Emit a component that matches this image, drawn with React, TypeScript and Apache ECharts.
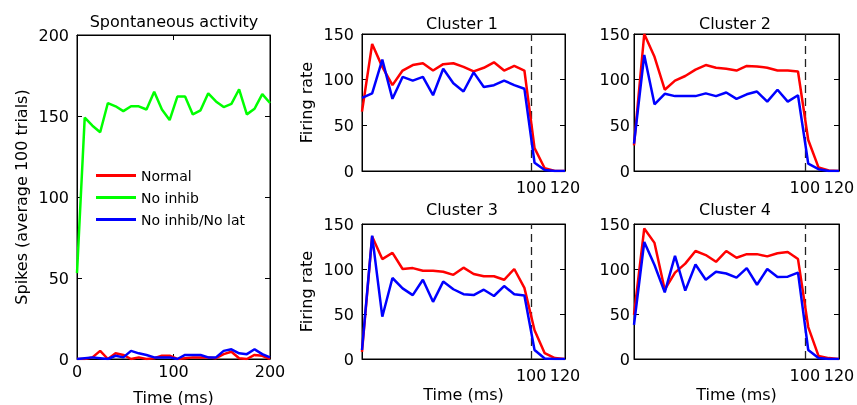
import React, { useEffect, useRef } from "react";
import * as echarts from "echarts";

const seriesNames = ["Normal", "No inhib", "No inhib/No lat"];
const seriesColors = ["#ff0000", "#00ff00", "#0000ff"];

const spontTime = [0, 8, 16, 24, 32, 40, 48, 56, 64, 72, 80, 88, 96, 104, 112, 120, 128, 136, 144, 152, 160, 168, 176, 184, 192, 200];
const spontNormal = [0, 0, 1, 5, 0, 3.5, 2.5, 0, 1, 0, 0.5, 2, 2, 0, 0.5, 1, 1, 1, 0.5, 3, 4.5, 0.5, 0, 2.5, 2, 0];
const spontNoInhib = [53, 149, 144, 140, 158, 156, 153, 156, 156, 154, 165, 154, 147.5, 162, 162, 151, 153.5, 164, 159, 155.5, 157.5, 166.5, 151, 154.5, 163.5, 158];
const spontNoInhibNoLat = [0, 0.5, 1, 0.5, 0, 2, 1, 5, 3.5, 2.5, 1, 1, 1, 0, 2.5, 2.5, 2.5, 1, 1, 5, 6, 3.5, 3, 6, 3, 1];

const clusterTime = [0, 6, 12, 18, 24, 30, 36, 42, 48, 54, 60, 66, 72, 78, 84, 90, 96, 102, 108, 114, 120];
const c1Normal = [65, 139, 114, 94, 110, 116, 118, 110, 117, 118, 114, 109, 113, 119, 110, 115, 110, 25, 3, 0, 0];
const c1NoLat = [80, 85, 122, 79, 103, 99, 103, 83, 112, 96, 87, 108, 92, 94, 99, 94, 90, 9, 1, 0, 0];
const c2Normal = [28, 150, 125, 89, 99, 104, 111, 116, 113, 112, 110, 115, 114.5, 113, 110, 110, 109, 34, 4, 0.5, 0];
const c2NoLat = [30, 127, 73, 84.5, 82, 82, 82, 85, 82, 86, 79, 84, 87, 76, 89, 76, 83, 8, 2, 0, 0];
const c3Normal = [8, 136, 111, 118, 100, 101, 98, 98, 97, 93.5, 101.5, 94.5, 92, 92, 88, 100, 79, 32, 6.5, 1, 0];
const c3NoLat = [10, 137, 47, 90, 78.5, 71, 88, 63.5, 86, 77.5, 72, 71, 77, 70, 81, 72, 70.5, 10, 0.5, 0, 0];
const c4Normal = [49, 145, 129, 77, 96, 106, 120, 115.5, 108, 120, 112.5, 116.5, 116.5, 114, 117.5, 119, 111, 35.5, 3.5, 1, 0];
const c4NoLat = [38, 130, 104.5, 74, 114.5, 76, 105, 88, 97, 95, 90.5, 101, 82.5, 100, 91, 91.5, 96, 10, 1, 0, 0];

const clusterTitles = ["Cluster 1", "Cluster 2", "Cluster 3", "Cluster 4"];
const clusterNormal = [c1Normal, c2Normal, c3Normal, c4Normal];
const clusterNoLat = [c1NoLat, c2NoLat, c3NoLat, c4NoLat];

const spontXTicks = [0, 100, 200];
const clusterXTicks = [100, 120];
const stimulusEnd = 100;

const FONT = "DejaVu Sans";

export default function App() {
  const ref = useRef<HTMLDivElement>(null);
  useEffect(() => {
    if (!ref.current) return;
    const chart = echarts.init(ref.current, undefined, { renderer: "svg" });

    const grids = [
      { left: 77, top: 35, width: 193, height: 324 },
      { left: 362, top: 34, width: 203, height: 137 },
      { left: 634, top: 34, width: 205, height: 137 },
      { left: 362, top: 224, width: 203, height: 135 },
      { left: 634, top: 224, width: 205, height: 135 },
    ].map((g) => ({
      ...g,
      show: true,
      borderColor: "#000",
      borderWidth: 1,
      containLabel: false,
      outerBoundsMode: "none",
    }));

    const labelStyle = { color: "#000", fontFamily: FONT, fontSize: 16 };
    const nameStyle = { color: "#000", fontFamily: FONT, fontSize: 16 };
    const xAxes: any[] = [];
    const yAxes: any[] = [];
    for (let i = 0; i < 5; i++) {
      const isSpont = i === 0;
      const max = isSpont ? 200 : 120;
      const ticks = isSpont ? spontXTicks : clusterXTicks;
      const hasXName = i === 0 || i === 3 || i === 4;
      const hasYName = i === 0 || i === 1 || i === 3;
      xAxes.push({
        type: "value",
        gridIndex: i,
        position: "bottom",
        min: 0,
        max,
        axisLine: { show: true, onZero: false, lineStyle: { color: "#000", width: 1 } },
        axisTick: { show: true, inside: true, length: 5, customValues: ticks, lineStyle: { color: "#000" } },
        axisLabel: { show: true, customValues: ticks, margin: isSpont ? 4 : 8, ...labelStyle },
        splitLine: { show: false },
        name: hasXName ? "Time (ms)" : "",
        nameLocation: "middle",
        nameGap: isSpont ? 30 : 27,
        nameTextStyle: nameStyle,
      });
      xAxes.push({
        type: "value",
        gridIndex: i,
        position: "top",
        min: 0,
        max,
        axisLine: { show: true, onZero: false, lineStyle: { color: "#000", width: 1 } },
        axisTick: { show: true, inside: true, length: 5, customValues: ticks, lineStyle: { color: "#000" } },
        axisLabel: { show: false },
        splitLine: { show: false },
      });
      const ymax = isSpont ? 200 : 150;
      yAxes.push({
        type: "value",
        gridIndex: i,
        position: "left",
        min: 0,
        max: ymax,
        interval: 50,
        axisLine: { show: true, onZero: false, lineStyle: { color: "#000", width: 1 } },
        axisTick: { show: true, inside: true, length: 5, lineStyle: { color: "#000" } },
        axisLabel: { show: true, margin: i === 2 || i === 4 ? 4 : 8, ...labelStyle },
        splitLine: { show: false },
        name: hasYName ? (isSpont ? "Spikes (average 100 trials)" : "Firing rate") : "",
        nameLocation: "middle",
        nameGap: 48,
        nameTextStyle: nameStyle,
      });
      yAxes.push({
        type: "value",
        gridIndex: i,
        position: "right",
        min: 0,
        max: ymax,
        interval: 50,
        axisLine: { show: true, onZero: false, lineStyle: { color: "#000", width: 1 } },
        axisTick: { show: true, inside: true, length: 5, lineStyle: { color: "#000" } },
        axisLabel: { show: false },
        splitLine: { show: false },
      });
    }

    const pairs = (xs: number[], ys: number[]) => xs.map((x, k) => [x, ys[k]]);
    const lineSeries = (name: string, color: string, data: number[][], gi: number, extra: any = {}) => ({
      type: "line",
      name,
      xAxisIndex: gi * 2,
      yAxisIndex: gi * 2,
      data,
      showSymbol: false,
      symbol: "none",
      clip: true,
      lineStyle: { color, width: 2.5 },
      itemStyle: { color },
      ...extra,
    });

    const series: any[] = [
      lineSeries(seriesNames[0], seriesColors[0], pairs(spontTime, spontNormal), 0),
      lineSeries(seriesNames[1], seriesColors[1], pairs(spontTime, spontNoInhib), 0),
      lineSeries(seriesNames[2], seriesColors[2], pairs(spontTime, spontNoInhibNoLat), 0),
    ];
    for (let c = 0; c < 4; c++) {
      const gi = c + 1;
      series.push(lineSeries(seriesNames[0], seriesColors[0], pairs(clusterTime, clusterNormal[c]), gi));
      series.push(
        lineSeries(seriesNames[2], seriesColors[2], pairs(clusterTime, clusterNoLat[c]), gi, {
          markLine: {
            silent: true,
            symbol: ["none", "none"],
            label: { show: false },
            lineStyle: { color: "#222", type: [8, 5], width: 1.3 },
            data: [{ xAxis: stimulusEnd }],
            z: 1,
          },
        })
      );
    }

    const titleStyle = { fill: "#000", fontFamily: FONT, fontSize: 16, textAlign: "center", textVerticalAlign: "middle" };
    const titlePos = [
      [174, 21],
      [462, 23],
      [735, 23],
      [462, 209],
      [735, 209],
    ];
    const titles = ["Spontaneous activity", ...clusterTitles];

    chart.setOption({
      animation: false,
      grid: grids,
      xAxis: xAxes,
      yAxis: yAxes,
      series,
      legend: {
        show: true,
        orient: "vertical",
        left: 91,
        top: 163,
        itemWidth: 40,
        itemHeight: 3,
        itemGap: 7,
        icon: "rect",
        data: seriesNames,
        selectedMode: false,
        textStyle: { color: "#000", fontFamily: FONT, fontSize: 14, lineHeight: 15 },
      },
      graphic: titles.map((t, i) => ({
        type: "text",
        x: titlePos[i][0],
        y: titlePos[i][1],
        style: { ...titleStyle, text: t },
      })),
    });

    return () => chart.dispose();
  }, []);

  return <div ref={ref} style={{ position: "fixed", left: 0, top: 0, width: 857, height: 405 }} />;
}
